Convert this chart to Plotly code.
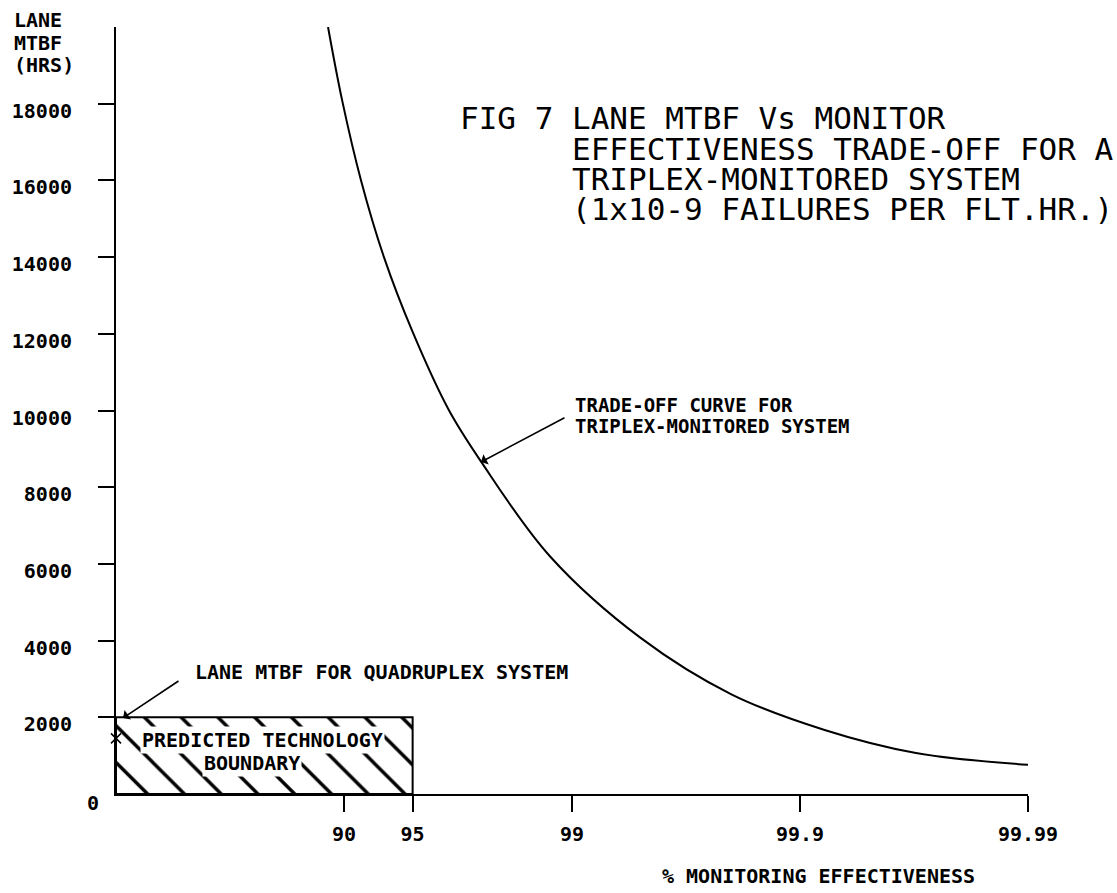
import plotly.graph_objects as go

# ---------------- data ----------------
curve_effectiveness = [88.25, 89.8, 91.58, 93.32, 95.0, 96.54, 97.5, 98.75, 99.5, 99.8, 99.922, 99.969, 99.99]
curve_mtbf = [20000, 18100, 16000, 14000, 12050, 10000, 8660, 6200, 4070, 2600, 1670, 1070, 760]

box_effectiveness = [0, 95]
box_mtbf = [0, 2000]

quad_effectiveness = [0]
quad_mtbf = [1450]

x_tick_effectiveness = [90, 95, 99, 99.9, 99.99]
x_tick_labels = ["90", "95", "99", "99.9", "99.99"]
y_tick_values = [2000, 4000, 6000, 8000, 10000, 12000, 14000, 16000, 18000]
y_tick_labels = [str(v) for v in y_tick_values]


def miss(eff):
    # x axis: log scale of the unmonitored fraction (100 - effectiveness)
    return 100 - eff


# ---------------- layout geometry ----------------
FIG_W, FIG_H = 1117, 893
L, T, R, B = 116, 27, 89, 99
PW, PH = FIG_W - L - R, FIG_H - T - B


def paper(x, y):
    return (x - L) / PW, (T + PH - y) / PH


MONO = "DejaVu Sans Mono"
small = dict(family=MONO, size=20, color="black", weight="bold")
callout = dict(family=MONO, size=19, color="black", weight="bold")
title_font = dict(family=MONO, size=31, color="black")

fig = go.Figure()

# hatched predicted technology boundary box
bx0, bx1 = miss(box_effectiveness[0]), miss(box_effectiveness[1])
by0, by1 = box_mtbf
fig.add_trace(go.Scatter(
    x=[bx0, bx1, bx1, bx0, bx0], y=[by0, by0, by1, by1, by0],
    mode="lines", fill="toself", fillcolor="white",
    fillpattern=dict(shape="\\", size=26, solidity=0.13, fgcolor="black",
                     bgcolor="white", fgopacity=1),
    line=dict(color="black", width=2), hoverinfo="skip", showlegend=False,
    cliponaxis=False,
))

# trade-off curve
fig.add_trace(go.Scatter(
    x=[miss(e) for e in curve_effectiveness], y=curve_mtbf,
    mode="lines", line=dict(color="black", width=2, shape="spline", smoothing=1.0),
    showlegend=False, cliponaxis=False,
))

# quadruplex point
fig.add_trace(go.Scatter(
    x=[miss(e) for e in quad_effectiveness], y=quad_mtbf,
    mode="markers", marker=dict(symbol="x-thin", size=10, line=dict(color="black", width=1.5)),
    showlegend=False, cliponaxis=False,
))

ann = []


def text(s, x, y, font, xanchor="left", **kw):
    px_, py_ = paper(x, y)
    ann.append(dict(text=s, x=px_, y=py_, xref="paper", yref="paper", xanchor=xanchor,
                    yanchor="middle", showarrow=False, font=font, **kw))


def arrow(hx, hy, tx, ty):
    px_, py_ = paper(hx, hy)
    ann.append(dict(text="", x=px_, y=py_, xref="paper", yref="paper", showarrow=True,
                    ax=tx - hx, ay=ty - hy, arrowhead=1, arrowsize=1.2, arrowwidth=1.6,
                    arrowcolor="black"))


# titles
text("FIG 7 LANE MTBF Vs MONITOR", 458, 118, title_font)
text("EFFECTIVENESS TRADE-OFF FOR A", 570, 149, title_font)
text("TRIPLEX-MONITORED SYSTEM", 570, 179, title_font)
text("(1x10-9 FAILURES PER FLT.HR.)", 570, 209, title_font)

# axis titles
text("LANE", 12, 20, small)
text("MTBF", 12, 43, small)
text("(HRS)", 12, 65, small)
text("% MONITORING EFFECTIVENESS", 818, 876, small, xanchor="center")
text("0", 93, 803, small, xanchor="center")

# callouts
text("TRADE-OFF CURVE FOR", 573, 405, callout)
text("TRIPLEX-MONITORED SYSTEM", 573, 426, callout)
arrow(481, 462, 566, 417)

text("LANE MTBF FOR QUADRUPLEX SYSTEM", 193, 672, small)
arrow(123, 718, 180, 680)

text("PREDICTED TECHNOLOGY", 140, 740, small, bgcolor="white", borderpad=1)
text("BOUNDARY", 252, 763, small, xanchor="center", bgcolor="white", borderpad=1)

fig.update_layout(
    width=FIG_W, height=FIG_H,
    margin=dict(l=L, r=R, t=T, b=B, pad=0),
    paper_bgcolor="white", plot_bgcolor="white",
    showlegend=False,
    annotations=ann,
    xaxis=dict(
        type="log", range=[2, -2],
        tickvals=[miss(e) for e in x_tick_effectiveness], ticktext=x_tick_labels,
        ticks="outside", ticklen=16, tickwidth=2, tickcolor="black",
        showline=True, linewidth=2, linecolor="black",
        showgrid=False, zeroline=False, tickfont=small, ticklabelstandoff=5,
    ),
    yaxis=dict(
        range=[0, 20000],
        tickvals=y_tick_values, ticktext=y_tick_labels,
        ticks="outside", ticklen=16, tickwidth=2, tickcolor="black",
        showline=True, linewidth=2, linecolor="black",
        showgrid=False, zeroline=False, tickfont=small,
        ticklabelstandoff=22, ticklabelshift=7,
    ),
)

fig.write_html("out.html")
